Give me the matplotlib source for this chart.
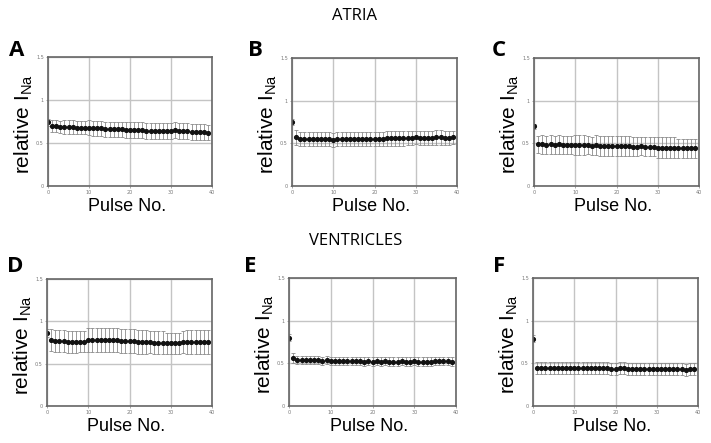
"""Relative I_Na across 40 pulses, atria vs ventricles."""
import numpy as np
from matplotlib import pyplot as plt

pulses = np.arange(40)

a_mean = [0.74, 0.70, 0.70, 0.69, 0.69, 0.69, 0.69, 0.68, 0.68, 0.68,
          0.68, 0.67, 0.67, 0.67, 0.66, 0.66, 0.66, 0.66, 0.66, 0.65,
          0.65, 0.65, 0.65, 0.65, 0.64, 0.64, 0.64, 0.64, 0.64, 0.64,
          0.64, 0.65, 0.64, 0.64, 0.64, 0.63, 0.63, 0.63, 0.63, 0.62]
a_err = [0.04, 0.07, 0.07, 0.07, 0.08, 0.08, 0.08, 0.08, 0.08, 0.08,
         0.09, 0.09, 0.09, 0.09, 0.09, 0.09, 0.09, 0.09, 0.09, 0.09,
         0.09, 0.09, 0.09, 0.09, 0.09, 0.09, 0.09, 0.09, 0.09, 0.09,
         0.09, 0.09, 0.09, 0.09, 0.09, 0.09, 0.09, 0.09, 0.09, 0.09]

b_mean = [0.75, 0.57, 0.55, 0.55, 0.55, 0.55, 0.55, 0.55, 0.55, 0.55,
          0.54, 0.55, 0.55, 0.55, 0.55, 0.55, 0.55, 0.55, 0.55, 0.55,
          0.55, 0.55, 0.55, 0.56, 0.56, 0.56, 0.56, 0.56, 0.56, 0.56,
          0.57, 0.56, 0.56, 0.56, 0.56, 0.57, 0.57, 0.56, 0.56, 0.57]
b_err = [0.03, 0.09, 0.08, 0.08, 0.08, 0.08, 0.08, 0.08, 0.08, 0.08,
         0.08, 0.08, 0.08, 0.08, 0.08, 0.08, 0.08, 0.08, 0.08, 0.08,
         0.08, 0.08, 0.08, 0.09, 0.09, 0.09, 0.09, 0.09, 0.08, 0.08,
         0.08, 0.08, 0.08, 0.08, 0.08, 0.09, 0.09, 0.08, 0.08, 0.08]

c_mean = [0.70, 0.49, 0.49, 0.48, 0.49, 0.48, 0.49, 0.48, 0.48, 0.48,
          0.48, 0.48, 0.48, 0.48, 0.47, 0.48, 0.47, 0.47, 0.47, 0.47,
          0.47, 0.47, 0.47, 0.47, 0.46, 0.46, 0.47, 0.46, 0.46, 0.46,
          0.45, 0.45, 0.45, 0.45, 0.45, 0.44, 0.44, 0.44, 0.44, 0.44]
c_err = [0.03, 0.10, 0.11, 0.11, 0.11, 0.11, 0.11, 0.11, 0.11, 0.11,
         0.12, 0.12, 0.12, 0.11, 0.11, 0.12, 0.12, 0.12, 0.12, 0.12,
         0.12, 0.12, 0.12, 0.12, 0.11, 0.11, 0.11, 0.11, 0.11, 0.11,
         0.12, 0.12, 0.12, 0.12, 0.12, 0.11, 0.11, 0.11, 0.11, 0.11]

d_mean = [0.86, 0.78, 0.77, 0.77, 0.77, 0.76, 0.76, 0.76, 0.76, 0.76,
          0.78, 0.78, 0.78, 0.78, 0.78, 0.78, 0.78, 0.78, 0.77, 0.77,
          0.77, 0.77, 0.76, 0.76, 0.76, 0.76, 0.75, 0.75, 0.75, 0.74,
          0.74, 0.74, 0.74, 0.76, 0.76, 0.76, 0.76, 0.76, 0.76, 0.76]
d_err = [0.05, 0.13, 0.13, 0.13, 0.13, 0.13, 0.13, 0.13, 0.12, 0.12,
         0.14, 0.14, 0.14, 0.14, 0.14, 0.14, 0.14, 0.14, 0.14, 0.14,
         0.14, 0.14, 0.14, 0.14, 0.14, 0.13, 0.13, 0.13, 0.13, 0.12,
         0.12, 0.12, 0.12, 0.13, 0.14, 0.14, 0.14, 0.14, 0.14, 0.14]

e_mean = [0.80, 0.56, 0.54, 0.54, 0.54, 0.54, 0.54, 0.54, 0.53, 0.54,
          0.53, 0.53, 0.53, 0.53, 0.53, 0.53, 0.53, 0.53, 0.52, 0.53,
          0.52, 0.53, 0.52, 0.53, 0.52, 0.52, 0.52, 0.53, 0.52, 0.52,
          0.53, 0.52, 0.52, 0.52, 0.52, 0.53, 0.53, 0.53, 0.53, 0.52]
e_err = [0.04, 0.06, 0.05, 0.05, 0.05, 0.05, 0.05, 0.05, 0.05, 0.05,
         0.05, 0.05, 0.05, 0.05, 0.05, 0.05, 0.05, 0.05, 0.05, 0.05,
         0.05, 0.05, 0.05, 0.05, 0.05, 0.05, 0.05, 0.05, 0.05, 0.05,
         0.05, 0.05, 0.05, 0.05, 0.05, 0.05, 0.05, 0.05, 0.05, 0.05]

f_mean = [0.79, 0.45, 0.44, 0.44, 0.44, 0.44, 0.44, 0.44, 0.44, 0.44,
          0.44, 0.44, 0.44, 0.44, 0.44, 0.44, 0.44, 0.44, 0.44, 0.43,
          0.43, 0.44, 0.44, 0.43, 0.43, 0.43, 0.43, 0.43, 0.43, 0.43,
          0.43, 0.43, 0.43, 0.43, 0.43, 0.43, 0.43, 0.42, 0.43, 0.43]
f_err = [0.04, 0.07, 0.07, 0.07, 0.07, 0.07, 0.07, 0.07, 0.07, 0.07,
         0.07, 0.07, 0.07, 0.07, 0.07, 0.07, 0.07, 0.07, 0.07, 0.07,
         0.07, 0.07, 0.07, 0.07, 0.07, 0.07, 0.07, 0.07, 0.07, 0.07,
         0.07, 0.07, 0.07, 0.07, 0.07, 0.07, 0.07, 0.07, 0.07, 0.07]

# letter, means, errors, axes box in pixels (x0, y0, x1, y1), letter centre
panels = [
    ("A", a_mean, a_err, (48, 57, 212, 186), (17, 50)),
    ("B", b_mean, b_err, (292, 58, 457, 186), (255, 50)),
    ("C", c_mean, c_err, (534, 58, 699, 186), (499, 50)),
    ("D", d_mean, d_err, (47, 279, 212, 406), (15, 267)),
    ("E", e_mean, e_err, (289, 278, 456, 406), (250, 267)),
    ("F", f_mean, f_err, (533, 278, 698, 406), (499, 267)),
]

W, H = 711, 443
fig = plt.figure(figsize=(W / 100, H / 100), dpi=100)

for letter, mean, err, (x0, y0, x1, y1), (lx, ly) in panels:
    ax = fig.add_axes([x0 / W, 1 - y1 / H, (x1 - x0) / W, (y1 - y0) / H])
    ax.errorbar(pulses, mean, yerr=err, fmt="o", color="#111111",
                ms=2.7, ecolor="#8a8a8a", elinewidth=0.6, capsize=1.1,
                capthick=0.6)
    ax.set_xlim(0, 40)
    ax.set_ylim(0, 1.5)
    ax.set_xticks([0, 10, 20, 30, 40])
    ax.set_yticks([0, 0.5, 1, 1.5])
    ax.set_yticklabels(["0", "0.5", "1", "1.5"])
    ax.tick_params(labelsize=3.5, labelcolor="#777777", length=1.5,
                   width=0.6, color="#999999", pad=1.5)
    ax.grid(True, color="#c4c4c4", lw=1.0)
    ax.set_axisbelow(True)
    for sp in ax.spines.values():
        sp.set_color("#666666")
        sp.set_linewidth(1.2)

    ax.set_ylabel("relative I$_\\mathregular{Na}$", fontsize=15,
                  family="Liberation Sans")
    ax.yaxis.set_label_coords(-0.08, 0.48)
    ax.set_xlabel("Pulse No.", fontsize=13, family="Liberation Sans",
                  va="center")
    ax.xaxis.set_label_coords(0.48, -0.16)

    fig.text(lx / W, 1 - ly / H, letter, fontsize=16, fontweight="bold",
             family="Open Sans", ha="center", va="center")

fig.text(355 / W, 1 - 16 / H, "ATRIA", fontsize=12, family="Open Sans",
         ha="center", va="center")
fig.text(356 / W, 1 - 241 / H, "VENTRICLES", fontsize=12, family="Open Sans",
         ha="center", va="center")

fig.savefig("out.png", dpi=100)
